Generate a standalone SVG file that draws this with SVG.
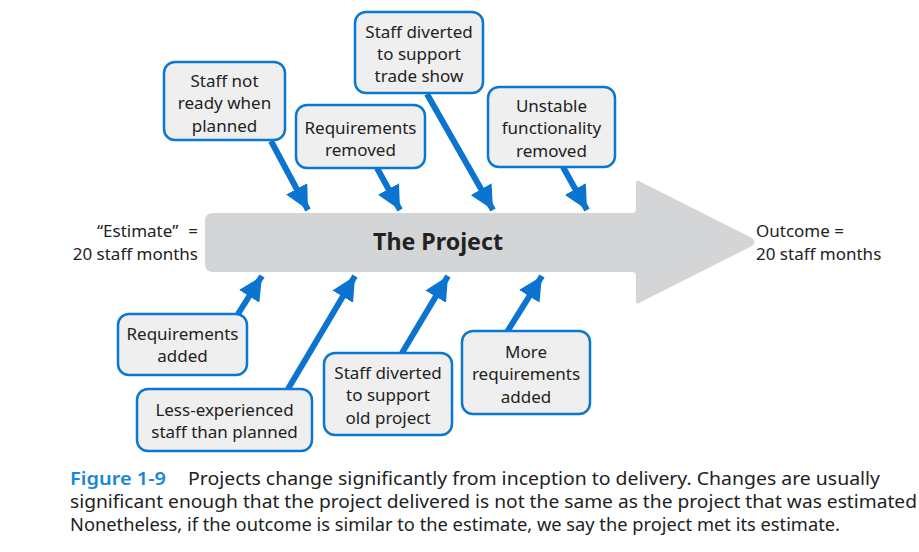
<svg xmlns="http://www.w3.org/2000/svg" width="919" height="552" viewBox="0 0 919 552">
<defs>
<style>
.box{fill:#efefef;stroke:#0a78d2;stroke-width:2.5}
.t{font-family:"Noto Sans","Open Sans",sans-serif;font-size:17px;fill:#222;text-anchor:middle}
.l{font-family:"Noto Sans","Open Sans",sans-serif;font-size:17px;fill:#222}
.cap{font-family:"Noto Sans","Open Sans",sans-serif;font-size:17.5px;fill:#222}
.conn{stroke:#0a74d0;stroke-width:6;fill:none;marker-end:url(#ah)}
</style>
<marker id="ah" markerUnits="userSpaceOnUse" markerWidth="24" markerHeight="24" viewBox="0 0 24 24" refX="24" refY="12" orient="auto">
<path d="M0,0 L24,12 L0,24 z" fill="#0a74d0"/>
</marker>
</defs>
<rect width="919" height="552" fill="#ffffff"/>

<g id="project">
<path d="M213,213 L632,213 Q636,213 636,209 L636,184 Q636,178 641,182 L752,238 Q757,242 752,246 L641,302 Q636,306 636,300 L636,276 Q636,272 632,272 L213,272 Q205,272 205,264 L205,221 Q205,213 213,213 Z" fill="#d4d5d7"/>
<text x="438" y="250" font-family="'Noto Sans','Open Sans',sans-serif" font-size="23" font-weight="bold" fill="#222" text-anchor="middle" textLength="130" lengthAdjust="spacingAndGlyphs">The Project</text>
</g>

<g id="estimate">
<text class="l" x="198" y="237" text-anchor="end">“Estimate”<tspan dx="10">=</tspan></text>
<text class="l" x="198" y="260" text-anchor="end">20 staff months</text>
</g>
<g id="outcome">
<text class="l" x="756" y="237">Outcome =</text>
<text class="l" x="756" y="260">20 staff months</text>
</g>

<g id="connectors">
<line class="conn" x1="271" y1="141" x2="308" y2="210"/>
<line class="conn" x1="377" y1="168" x2="400" y2="210"/>
<line class="conn" x1="427" y1="94" x2="493" y2="210"/>
<line class="conn" x1="563" y1="167" x2="587" y2="210"/>
<line class="conn" x1="238" y1="314" x2="262" y2="276"/>
<line class="conn" x1="288" y1="389" x2="355" y2="276"/>
<line class="conn" x1="402" y1="353" x2="448" y2="276"/>
<line class="conn" x1="507" y1="332" x2="542" y2="276"/>
</g>

<g id="n1">
<rect class="box" x="164" y="62" width="121" height="78" rx="11"/>
<text class="t" x="224.5" y="87">Staff not</text>
<text class="t" x="224.5" y="109">ready when</text>
<text class="t" x="224.5" y="132">planned</text>
</g>
<g id="n2">
<rect class="box" x="296" y="105" width="129" height="63" rx="11"/>
<text class="t" x="360.5" y="134">Requirements</text>
<text class="t" x="360.5" y="156">removed</text>
</g>
<g id="n3">
<rect class="box" x="355" y="12" width="128" height="81" rx="11"/>
<text class="t" x="419" y="38">Staff diverted</text>
<text class="t" x="419" y="60">to support</text>
<text class="t" x="419" y="82">trade show</text>
</g>
<g id="n4">
<rect class="box" x="488" y="87" width="127" height="80" rx="11"/>
<text class="t" x="551.5" y="112">Unstable</text>
<text class="t" x="551.5" y="134">functionality</text>
<text class="t" x="551.5" y="157">removed</text>
</g>
<g id="n5">
<rect class="box" x="118" y="314" width="129" height="61" rx="11"/>
<text class="t" x="182.5" y="340">Requirements</text>
<text class="t" x="182.5" y="362">added</text>
</g>
<g id="n6">
<rect class="box" x="137" y="389" width="175" height="62" rx="11"/>
<text class="t" x="224.5" y="416">Less-experienced</text>
<text class="t" x="224.5" y="438">staff than planned</text>
</g>
<g id="n7">
<rect class="box" x="324" y="353" width="128" height="82" rx="11"/>
<text class="t" x="388" y="379">Staff diverted</text>
<text class="t" x="388" y="401">to support</text>
<text class="t" x="388" y="424">old project</text>
</g>
<g id="n8">
<rect class="box" x="462" y="331" width="128" height="83" rx="11"/>
<text class="t" x="526" y="358">More</text>
<text class="t" x="526" y="380">requirements</text>
<text class="t" x="526" y="403">added</text>
</g>

<g id="caption">
<text class="cap" x="70" y="485" font-weight="600" style="fill:#1a86d6" textLength="96" lengthAdjust="spacingAndGlyphs">Figure 1-9</text>
<text class="cap" x="188" y="485" textLength="692" lengthAdjust="spacingAndGlyphs">Projects change significantly from inception to delivery. Changes are usually</text>
<text class="cap" x="70" y="508" textLength="847" lengthAdjust="spacingAndGlyphs">significant enough that the project delivered is not the same as the project that was estimated</text>
<text class="cap" x="70" y="531" textLength="770" lengthAdjust="spacingAndGlyphs">Nonetheless, if the outcome is similar to the estimate, we say the project met its estimate.</text>
</g>
</svg>
